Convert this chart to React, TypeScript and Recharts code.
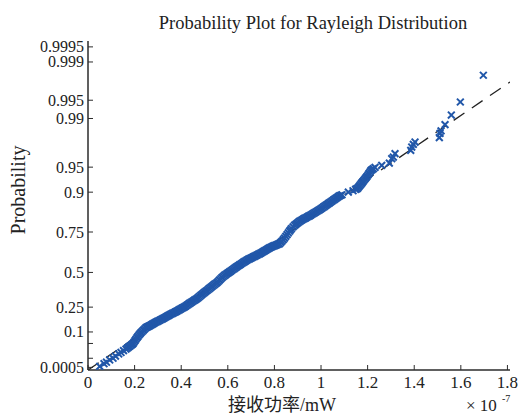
import React from 'react';
import { ComposedChart, Scatter, XAxis, YAxis } from 'recharts';

// Received power samples (x 1e-7 mW) and their positions on the Rayleigh probability scale
const powerValues = [
  0.0502, 0.0687, 0.0794, 0.0931, 0.1073, 0.118, 0.1318, 0.1416, 0.1524, 0.1631,
  0.1738, 0.1845, 0.1931, 0.2017, 0.2103, 0.2189, 0.2275, 0.2382, 0.2489, 0.2575,
  0.2661, 0.2768, 0.2876, 0.2983, 0.309, 0.3197, 0.3305, 0.3412, 0.3519, 0.3627,
  0.3734, 0.382, 0.3927, 0.4034, 0.4142, 0.4249, 0.4356, 0.4464, 0.4571, 0.4678,
  0.4785, 0.4893, 0.5, 0.5107, 0.5215, 0.5322, 0.5429, 0.5536, 0.5644, 0.5751,
  0.5858, 0.5966, 0.6073, 0.618, 0.6288, 0.6395, 0.6502, 0.6609, 0.6717, 0.6824,
  0.6931, 0.7039, 0.7146, 0.7253, 0.7361, 0.7468, 0.7575, 0.7682, 0.779, 0.7897,
  0.8004, 0.8112, 0.8219, 0.8326, 0.8433, 0.8541, 0.8648, 0.8734, 0.8863, 0.897,
  0.9077, 0.9185, 0.9292, 0.9399, 0.9506, 0.9614, 0.9721, 0.9828, 0.9936, 1.0043,
  1.015, 1.0258, 1.0365, 1.0472, 1.0579, 1.0687, 1.0794, 1.0901, 1.1172, 1.1373,
  1.1481, 1.1567, 1.1652, 1.1738, 1.1803, 1.1888, 1.1974, 1.206, 1.2146, 1.2245,
  1.2318, 1.2605, 1.2931, 1.3034, 1.3103, 1.3176, 1.385, 1.3893, 1.3961, 1.4034,
  1.5077, 1.5107, 1.515, 1.5322, 1.5592, 1.5979, 1.6966,
];
const quantileValues = [
  0.0435, 0.0761, 0.0943, 0.1209, 0.1426, 0.1668, 0.1934, 0.2115, 0.2332, 0.2514,
  0.2755, 0.2985, 0.3178, 0.3541, 0.3903, 0.423, 0.4508, 0.481, 0.5112, 0.5233,
  0.5354, 0.5535, 0.5716, 0.5867, 0.6018, 0.6169, 0.6333, 0.6514, 0.6683, 0.6834,
  0.6985, 0.7106, 0.7275, 0.7456, 0.7614, 0.7819, 0.8031, 0.823, 0.8423, 0.8617,
  0.887, 0.9124, 0.9366, 0.9595, 0.9837, 1.0079, 1.0321, 1.055, 1.0852, 1.1154,
  1.1408, 1.1626, 1.1831, 1.2049, 1.2266, 1.2484, 1.2677, 1.2882, 1.3076, 1.3269,
  1.342, 1.3571, 1.3722, 1.3873, 1.4024, 1.42, 1.4381, 1.4562, 1.4743, 1.4876,
  1.4997, 1.5118, 1.5239, 1.5553, 1.5916, 1.6327, 1.675, 1.7076, 1.7463, 1.7692,
  1.7934, 1.8115, 1.8285, 1.8442, 1.861, 1.8792, 1.8973, 1.9154, 1.9336, 1.9541,
  1.9753, 1.9964, 2.0176, 2.0387, 2.0599, 2.081, 2.1021, 2.1149, 2.1463, 2.1632,
  2.1789, 2.1922, 2.2224, 2.2526, 2.2756, 2.3058, 2.336, 2.3723, 2.4085, 2.429,
  2.4447, 2.4689, 2.4966, 2.5498, 2.5692, 2.6103, 2.6502, 2.6901, 2.7227, 2.7505,
  2.8036, 2.8556, 2.8858, 2.9607, 3.0767, 3.2338, 3.5565,
];
const powerValuesB = [
  0.1685, 0.1792, 0.1888, 0.1974, 0.206, 0.2146, 0.2232, 0.2329, 0.2436, 0.2532,
  0.2618, 0.2715, 0.2822, 0.293, 0.3037, 0.3144, 0.3251, 0.3359, 0.3466, 0.3573,
  0.3681, 0.3777, 0.3874, 0.3981, 0.4088, 0.4196, 0.4303, 0.441, 0.4518, 0.4625,
  0.4732, 0.4839, 0.4947, 0.5054, 0.5161, 0.5269, 0.5376, 0.5483, 0.559, 0.5698,
  0.5805, 0.5912, 0.602, 0.6127, 0.6234, 0.6342, 0.6449, 0.6556, 0.6663, 0.6771,
  0.6878, 0.6985, 0.7093, 0.72, 0.7307, 0.7415, 0.7522, 0.7629, 0.7736, 0.7844,
  0.7951, 0.8058, 0.8166, 0.8273, 0.838, 0.8487, 0.8595, 0.8691, 0.8799, 0.8917,
  0.9024, 0.9131, 0.9239, 0.9346, 0.9453, 0.956, 0.9668, 0.9775, 0.9882, 0.999,
  1.0097, 1.0204, 1.0312, 1.0419, 1.0526, 1.0633, 1.0741, 1.0848, 1.1524, 1.161,
  1.1695, 1.177, 1.1846, 1.1931, 1.2017, 1.2103, 1.2195,
];
const quantileValuesB = [
  0.2635, 0.287, 0.3082, 0.336, 0.3722, 0.4067, 0.4369, 0.4659, 0.4961, 0.5173,
  0.5294, 0.5445, 0.5626, 0.5792, 0.5943, 0.6094, 0.6251, 0.6424, 0.6599, 0.6759,
  0.691, 0.7046, 0.7191, 0.7366, 0.7535, 0.7717, 0.7925, 0.8131, 0.8327, 0.852,
  0.8744, 0.8997, 0.9245, 0.9481, 0.9716, 0.9958, 1.02, 1.0436, 1.0701, 1.1003,
  1.1281, 1.1517, 1.1729, 1.194, 1.2158, 1.2375, 1.2581, 1.278, 1.2979, 1.3173,
  1.3345, 1.3496, 1.3647, 1.3798, 1.3949, 1.4112, 1.4291, 1.4472, 1.4653, 1.481,
  1.4937, 1.5058, 1.5179, 1.5396, 1.5735, 1.6122, 1.6539, 1.6913, 1.727, 1.7578,
  1.7813, 1.8025, 1.82, 1.8364, 1.8526, 1.8701, 1.8883, 1.9064, 1.9245, 1.9439,
  1.9647, 1.9859, 2.007, 2.0282, 2.0493, 2.0705, 2.0916, 2.1085, 2.1855, 2.2073,
  2.2375, 2.2641, 2.2907, 2.3209, 2.3541, 2.3904, 2.4187,
];

const fitSigma = 0.521;
const xTicks = [0, 0.2, 0.4, 0.6, 0.8, 1, 1.2, 1.4, 1.6, 1.8];
const xTickLabels = ['0', '0.2', '0.4', '0.6', '0.8', '1', '1.2', '1.4', '1.6', '1.8'];
const yTickProbs = [0.0005, 0.01, 0.05, 0.1, 0.25, 0.5, 0.75, 0.9, 0.95, 0.99, 0.995, 0.999, 0.9995];
const yTickLabels = ['0.0005', '', '', '0.1', '0.25', '0.5', '0.75', '0.9', '0.95', '0.99', '0.995', '0.999', '0.9995'];
const xMax = 1.811;
const qMax = 3.97;

const rayleighQ = (p: number) => Math.sqrt(-2 * Math.log(1 - p));

const points = [
  ...powerValues.map((x, i) => ({ x, q: quantileValues[i] })),
  ...powerValuesB.map((x, i) => ({ x, q: quantileValuesB[i] })),
];
const yTicks = yTickProbs.map(rayleighQ);
const x25 = fitSigma * rayleighQ(0.25);
const x75 = fitSigma * rayleighQ(0.75);
const fitLow = [0, x25].map((x) => ({ x, q: x / fitSigma }));
const fitMid = [x25, x75].map((x) => ({ x, q: x / fitSigma }));
const fitHigh = [x75, xMax].map((x) => ({ x, q: x / fitSigma }));

const W = 521;
const H = 415;
const PLOT_LEFT = 88;
const PLOT_TOP = 41;
const PLOT_RIGHT = 510;
const PLOT_BOTTOM = 370;
const FONT = "'Liberation Serif', 'Times New Roman', serif";
const AXIS = '#2b2b2b';
const BLUE = '#2157a9';

const XMarker = (props: any) => {
  const { cx, cy } = props;
  if (cx == null || cy == null) return <g />;
  const r = 3.4;
  return (
    <path
      d={`M${cx - r},${cy - r}L${cx + r},${cy + r}M${cx - r},${cy + r}L${cx + r},${cy - r}`}
      stroke={BLUE}
      strokeWidth={2}
      fill="none"
    />
  );
};

const XTick = (props: any) => {
  const { x, index } = props;
  return (
    <g>
      <line x1={x} x2={x} y1={PLOT_BOTTOM} y2={PLOT_BOTTOM - 5} stroke={AXIS} strokeWidth={1} />
      <text x={x} y={PLOT_BOTTOM + 18} textAnchor="middle" fontFamily={FONT} fontSize={17} fill="#222">
        {xTickLabels[index]}
      </text>
    </g>
  );
};

const YTick = (props: any) => {
  const { y, index } = props;
  return (
    <g>
      <line x1={PLOT_LEFT} x2={PLOT_LEFT + 5} y1={y} y2={y} stroke={AXIS} strokeWidth={1} />
      <text x={PLOT_LEFT - 4} y={y + 5.5} textAnchor="end" fontFamily={FONT} fontSize={16} fill="#222">
        {yTickLabels[index]}
      </text>
    </g>
  );
};

const noShape = () => <g />;

export default function App() {
  return (
    <div style={{ position: 'absolute', left: 0, top: 0, width: W, height: H, background: '#fff' }}>
      <ComposedChart
        width={W}
        height={H}
        margin={{ top: PLOT_TOP, right: W - PLOT_RIGHT, bottom: 0, left: 0 }}
      >
        <XAxis
          xAxisId="main"
          type="number"
          dataKey="x"
          domain={[0, xMax]}
          ticks={xTicks}
          interval={0}
          tick={<XTick />}
          tickLine={false}
          axisLine={{ stroke: AXIS, strokeWidth: 1.5 }}
          height={H - PLOT_BOTTOM}
          allowDataOverflow
        />
        <XAxis
          xAxisId="top"
          orientation="top"
          type="number"
          domain={[0, xMax]}
          height={0}
          tick={false}
          tickLine={false}
          axisLine={{ stroke: '#222', strokeWidth: 1 }}
        />
        <YAxis
          yAxisId="main"
          type="number"
          dataKey="q"
          domain={[0, qMax]}
          ticks={yTicks}
          interval={0}
          tick={<YTick />}
          tickLine={false}
          axisLine={{ stroke: AXIS, strokeWidth: 1.5 }}
          width={PLOT_LEFT}
          allowDataOverflow
        />
        <YAxis
          yAxisId="right"
          orientation="right"
          type="number"
          domain={[0, qMax]}
          width={0}
          tick={false}
          tickLine={false}
          axisLine={{ stroke: '#222', strokeWidth: 1.5 }}
        />
        <Scatter xAxisId="main" yAxisId="main" data={fitLow} dataKey="q" line={{ stroke: '#222', strokeWidth: 1.3, strokeDasharray: '13 9' }} shape={noShape} isAnimationActive={false} />
        <Scatter xAxisId="main" yAxisId="main" data={fitMid} dataKey="q" line={{ stroke: '#222', strokeWidth: 1.3 }} shape={noShape} isAnimationActive={false} />
        <Scatter xAxisId="main" yAxisId="main" data={fitHigh} dataKey="q" line={{ stroke: '#222', strokeWidth: 1.3, strokeDasharray: '13 9' }} shape={noShape} isAnimationActive={false} />
        <Scatter xAxisId="main" yAxisId="main" data={points} dataKey="q" shape={<XMarker />} isAnimationActive={false} />
      </ComposedChart>
      <svg width={W} height={H} style={{ position: 'absolute', left: 0, top: 0, pointerEvents: 'none' }}>
        <text x={313} y={29} textAnchor="middle" fontFamily={FONT} fontSize={18.5} fill="#222">
          Probability Plot for Rayleigh Distribution
        </text>
        <text
          x={0}
          y={0}
          transform="translate(25,190) rotate(-90)"
          textAnchor="middle"
          fontFamily={FONT}
          fontSize={20}
          fill="#222"
        >
          Probability
        </text>
        <text x={282} y={411} textAnchor="middle" fontFamily={`${FONT}, 'Noto Sans CJK SC'`} fontSize={18} fill="#222">
          接收功率/mW
        </text>
        <text x={466} y={411} fontFamily={FONT} fontSize={17} fill="#222">
          × 10
        </text>
        <text x={502} y={402} fontFamily={FONT} fontSize={10} fill="#222">
          -7
        </text>
      </svg>
    </div>
  );
}
